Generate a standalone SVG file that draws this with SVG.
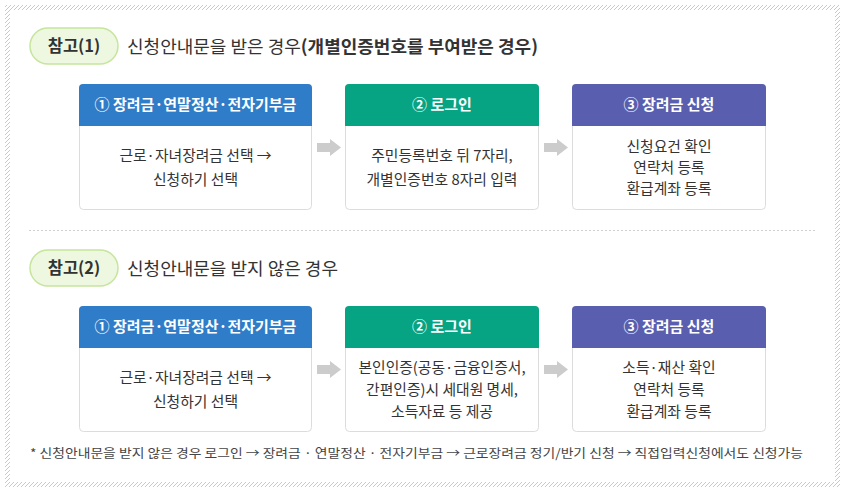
<svg xmlns="http://www.w3.org/2000/svg" width="845" height="492" viewBox="0 0 845 492">
<defs>
<pattern id="hatch" width="4" height="4" patternUnits="userSpaceOnUse">
<rect width="4" height="4" fill="#ffffff"/>
<path d="M0,4 L4,0" stroke="#c9c9c9" stroke-width="1"/>
</pattern>
</defs>
<style>
text{font-family:"Noto Sans CJK KR","Noto Sans",sans-serif;}
.pill{fill:#eef7df;stroke:#c6e59d;stroke-width:1.5;}
.ptxt{font-size:16.5px;font-weight:bold;fill:#333;text-anchor:middle;}
.ttl{font-size:17.5px;fill:#333;}
.box{fill:#fff;stroke:#dcdcdc;stroke-width:1;}
.hdr{font-size:15px;font-weight:bold;fill:#fff;text-anchor:middle;}
.bt{font-size:14.8px;fill:#333;text-anchor:middle;}
.arr{fill:#cccccc;}
.note{font-size:12.5px;fill:#444;}
</style>
<rect x="5" y="5" width="835" height="482" fill="url(#hatch)"/>
<rect x="10" y="10" width="825" height="472" fill="#fff"/>

<g id="badge1">
<rect class="pill" x="30" y="28" width="88" height="36" rx="18"/>
<text class="ptxt" x="74" y="52">참고(1)</text>
</g>
<text class="ttl" x="127" y="52.5" textLength="411" lengthAdjust="spacingAndGlyphs">신청안내문을 받은 경우<tspan font-weight="bold">(개별인증번호를 부여받은 경우)</tspan></text>

<g id="r1b1">
<rect class="box" x="79.5" y="84.5" width="232" height="125" rx="4"/>
<path d="M79,126 V88 a4,4 0 0 1 4,-4 H308 a4,4 0 0 1 4,4 V126 Z" fill="#2f7dc8"/>
<text class="hdr" x="195.5" y="109.5">① 장려금·연말정산·전자기부금</text>
<text class="bt" x="195.5" y="161">근로·자녀장려금 선택 →</text>
<text class="bt" x="195.5" y="185">신청하기 선택</text>
</g>
<g id="r1b2">
<rect class="box" x="345.5" y="84.5" width="193" height="125" rx="4"/>
<path d="M345,126 V88 a4,4 0 0 1 4,-4 H535 a4,4 0 0 1 4,4 V126 Z" fill="#06a483"/>
<text class="hdr" x="442" y="109.5">② 로그인</text>
<text class="bt" x="442" y="161">주민등록번호 뒤 7자리,</text>
<text class="bt" x="442" y="185">개별인증번호 8자리 입력</text>
</g>
<g id="r1b3">
<rect class="box" x="572.5" y="84.5" width="193" height="125" rx="4"/>
<path d="M572,126 V88 a4,4 0 0 1 4,-4 H762 a4,4 0 0 1 4,4 V126 Z" fill="#5a5eae"/>
<text class="hdr" x="669" y="109.5">③ 장려금 신청</text>
<text class="bt" x="669" y="152">신청요건 확인</text>
<text class="bt" x="669" y="173">연락처 등록</text>
<text class="bt" x="669" y="194">환급계좌 등록</text>
</g>

<line x1="29" y1="230.5" x2="815" y2="230.5" stroke="#cfcfcf" stroke-width="1" stroke-dasharray="2,2"/>

<g id="badge2">
<rect class="pill" x="30" y="250" width="88" height="36" rx="18"/>
<text class="ptxt" x="74" y="274">참고(2)</text>
</g>
<text class="ttl" x="127" y="275" textLength="211" lengthAdjust="spacingAndGlyphs">신청안내문을 받지 않은 경우</text>

<g id="r2b1">
<rect class="box" x="79.5" y="306.5" width="232" height="125" rx="4"/>
<path d="M79,348 V310 a4,4 0 0 1 4,-4 H308 a4,4 0 0 1 4,4 V348 Z" fill="#2f7dc8"/>
<text class="hdr" x="195.5" y="331.5">① 장려금·연말정산·전자기부금</text>
<text class="bt" x="195.5" y="383">근로·자녀장려금 선택 →</text>
<text class="bt" x="195.5" y="407">신청하기 선택</text>
</g>
<g id="r2b2">
<rect class="box" x="345.5" y="306.5" width="193" height="125" rx="4"/>
<path d="M345,348 V310 a4,4 0 0 1 4,-4 H535 a4,4 0 0 1 4,4 V348 Z" fill="#06a483"/>
<text class="hdr" x="442" y="331.5">② 로그인</text>
<text class="bt" x="442" y="373">본인인증(공동·금융인증서,</text>
<text class="bt" x="442" y="395">간편인증)시 세대원 명세,</text>
<text class="bt" x="442" y="417">소득자료 등 제공</text>
</g>
<g id="r2b3">
<rect class="box" x="572.5" y="306.5" width="193" height="125" rx="4"/>
<path d="M572,348 V310 a4,4 0 0 1 4,-4 H762 a4,4 0 0 1 4,4 V348 Z" fill="#5a5eae"/>
<text class="hdr" x="669" y="331.5">③ 장려금 신청</text>
<text class="bt" x="669" y="373">소득·재산 확인</text>
<text class="bt" x="669" y="395">연락처 등록</text>
<text class="bt" x="669" y="417">환급계좌 등록</text>
</g>

<g id="connectors">
<path class="arr" d="M317,143 H330 V139 L341,147.5 L330,156 V152 H317 Z"/>
<path class="arr" d="M544,143 H557 V139 L568,147.5 L557,156 V152 H544 Z"/>
<path class="arr" d="M317,365 H330 V361 L341,369.5 L330,378 V374 H317 Z"/>
<path class="arr" d="M544,365 H557 V361 L568,369.5 L557,378 V374 H544 Z"/>
</g>

<text class="note" x="30" y="458" textLength="773" lengthAdjust="spacingAndGlyphs">* 신청안내문을 받지 않은 경우 로그인 → 장려금 · 연말정산 · 전자기부금 → 근로장려금 정기/반기 신청 → 직접입력신청에서도 신청가능</text>
</svg>
